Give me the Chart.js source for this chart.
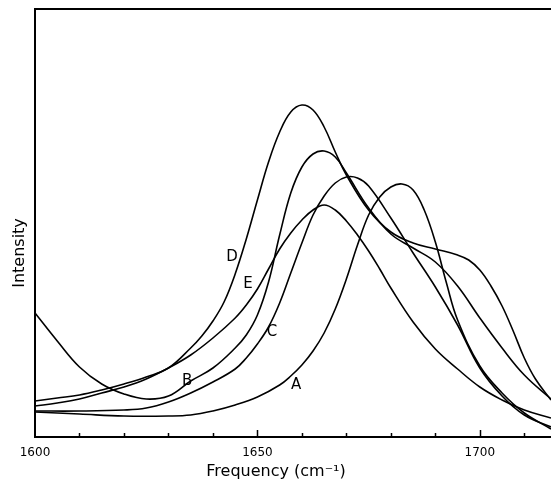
<!DOCTYPE html>
<html>
<head>
<meta charset="utf-8">
<script src="https://cdn.jsdelivr.net/npm/chart.js@4.4.1/dist/chart.umd.min.js"></script>
<style>
  html, body { margin: 0; padding: 0; background: #fff; }
  #wrap { width: 551px; height: 483px; }
</style>
</head>
<body>
<div id="wrap"><canvas id="spectrumChart"></canvas></div>
<script>
// Amide I band spectra, intensity in arbitrary units (0 = baseline)
// each point: [frequency cm-1, intensity]
const curveA = [[1600,25],[1610,23],[1620,21],[1630,21],[1635,22],[1640,26],[1645,32],[1650,40],[1655,52],[1657.5,61],[1660,72],[1662.5,86],[1665,104],[1667.5,128],[1670,158],[1672.5,192],[1675,222],[1677.5,240],[1680,250],[1682.5,253],[1685,247],[1687.5,227],[1690,195],[1692.5,154],[1695,117],[1700,71],[1705,44],[1710,24],[1716,8]];
const curveB = [[1600,124],[1605,96],[1610,70],[1615,53],[1620,43],[1625,38],[1630,41],[1635,56],[1640,69],[1645,89],[1647.5,102],[1650,122],[1652.5,155],[1655,202],[1657.5,244],[1660,270],[1662.5,283],[1665,286],[1667.5,280],[1670,264],[1675,229],[1680,203],[1685,189],[1690,175],[1695,151],[1700,119],[1705,89],[1710,62],[1716,38]];
const curveC = [[1600,26],[1610,26],[1620,27],[1625,29],[1630,35],[1635,44],[1640,55],[1645,68],[1647.5,79],[1650,93],[1652.5,110],[1655,134],[1657.5,164],[1660,194],[1662.5,222],[1665,241],[1667.5,254],[1670,260],[1672.5,259],[1675,251],[1680,219],[1685,184],[1690,150],[1695,112],[1700,69],[1705,41],[1710,22],[1716,10]];
const curveD = [[1600,36],[1605,39],[1610,42],[1615,47],[1620,53],[1625,60],[1630,69],[1635,89],[1637.5,101],[1640,116],[1642.5,135],[1645,163],[1647.5,198],[1650,237],[1652.5,275],[1655,305],[1657.5,325],[1660,332],[1662.5,327],[1665,310],[1667.5,285],[1670,262],[1675,227],[1680,205],[1685,194],[1690,188],[1695,182],[1697.5,177],[1700,167],[1702.5,151],[1705,131],[1707.5,106],[1710,79],[1712.5,58],[1716,37]];
const curveE = [[1600,31],[1605,34],[1610,38],[1615,44],[1620,50],[1625,58],[1630,69],[1635,82],[1640,99],[1645,119],[1647.5,132],[1650,148],[1652.5,168],[1655,188],[1657.5,204],[1660,217],[1662.5,227],[1665,232],[1667.5,227],[1670,216],[1672.5,202],[1675,186],[1677.5,168],[1680,149],[1685,115],[1690,88],[1695,68],[1700,50],[1705,37],[1710,27],[1716,19]];

const curves = [curveA, curveB, curveC, curveD, curveE];
const curveNames = ['A', 'B', 'C', 'D', 'E'];
// where each letter sits on the plot
const labelFreq = [1658.7, 1634.2, 1653.3, 1644.3, 1647.9];
const labelVal = [52, 56, 105, 180, 153];

const labelTicks = [1600, 1650, 1700];
const minorTicks = [1610, 1620, 1630, 1640, 1650, 1660, 1670, 1680, 1690, 1700, 1710];

const FONT = '"DejaVu Sans", sans-serif';

// frame top, inward ticks, curve letters and axis titles
const decorations = {
    id: 'decorations',
    afterDraw(chart) {
        const { ctx, chartArea, scales } = chart;
        const xs = scales.x, ys = scales.y;
        ctx.save();
        ctx.strokeStyle = '#000';
        ctx.fillStyle = '#000';

        ctx.lineWidth = 2;
        ctx.beginPath();
        ctx.moveTo(chartArea.left, chartArea.top);
        ctx.lineTo(chartArea.right, chartArea.top);
        ctx.stroke();

        ctx.lineWidth = 1.5;
        minorTicks.forEach(v => {
            const px = Math.round(xs.getPixelForValue(v)) + 0.5;
            const len = labelTicks.includes(v) ? 7 : 4;
            ctx.beginPath();
            ctx.moveTo(px, chartArea.bottom);
            ctx.lineTo(px, chartArea.bottom - len);
            ctx.stroke();
        });

        ctx.font = '15px ' + FONT;
        ctx.textAlign = 'center';
        ctx.textBaseline = 'middle';
        curveNames.forEach((name, i) => {
            ctx.fillText(name, xs.getPixelForValue(labelFreq[i]), ys.getPixelForValue(labelVal[i]));
        });

        ctx.font = '16px ' + FONT;
        ctx.fillText('Frequency (cm⁻¹)', chartArea.left + 241, chartArea.bottom + 35);

        ctx.translate(20, chartArea.top + 244);
        ctx.rotate(-Math.PI / 2);
        ctx.fillText('Intensity', 0, 0);
        ctx.restore();
    }
};

new Chart(document.getElementById('spectrumChart'), {
    type: 'line',
    data: {
        datasets: curves.map((pts, i) => ({
            label: curveNames[i],
            data: pts.map(([f, v]) => ({ x: f, y: v })),
            borderColor: '#000',
            borderWidth: 1.6,
            pointRadius: 0,
            fill: false,
            tension: 0.4
        }))
    },
    options: {
        responsive: true,
        maintainAspectRatio: false,
        animation: false,
        layout: { padding: { top: 9, right: 0, left: 0, bottom: 0 } },
        plugins: {
            legend: { display: false },
            tooltip: { enabled: false }
        },
        scales: {
            x: {
                type: 'linear',
                min: 1600,
                max: 1716,
                afterBuildTicks: s => { s.ticks = labelTicks.map(v => ({ value: v })); },
                afterFit: s => { s.height = 46; },
                grid: { display: false, drawTicks: false },
                border: { display: true, color: '#000', width: 2 },
                ticks: {
                    color: '#000',
                    font: { family: FONT, size: 12 },
                    padding: 9,
                    maxRotation: 0,
                    autoSkip: false,
                    callback: v => String(v)
                }
            },
            y: {
                min: 0,
                max: 428,
                afterFit: s => { s.width = 35; },
                grid: { display: false, drawTicks: false },
                border: { display: true, color: '#000', width: 2 },
                ticks: { display: false }
            }
        }
    },
    plugins: [decorations]
});
</script>
</body>
</html>
